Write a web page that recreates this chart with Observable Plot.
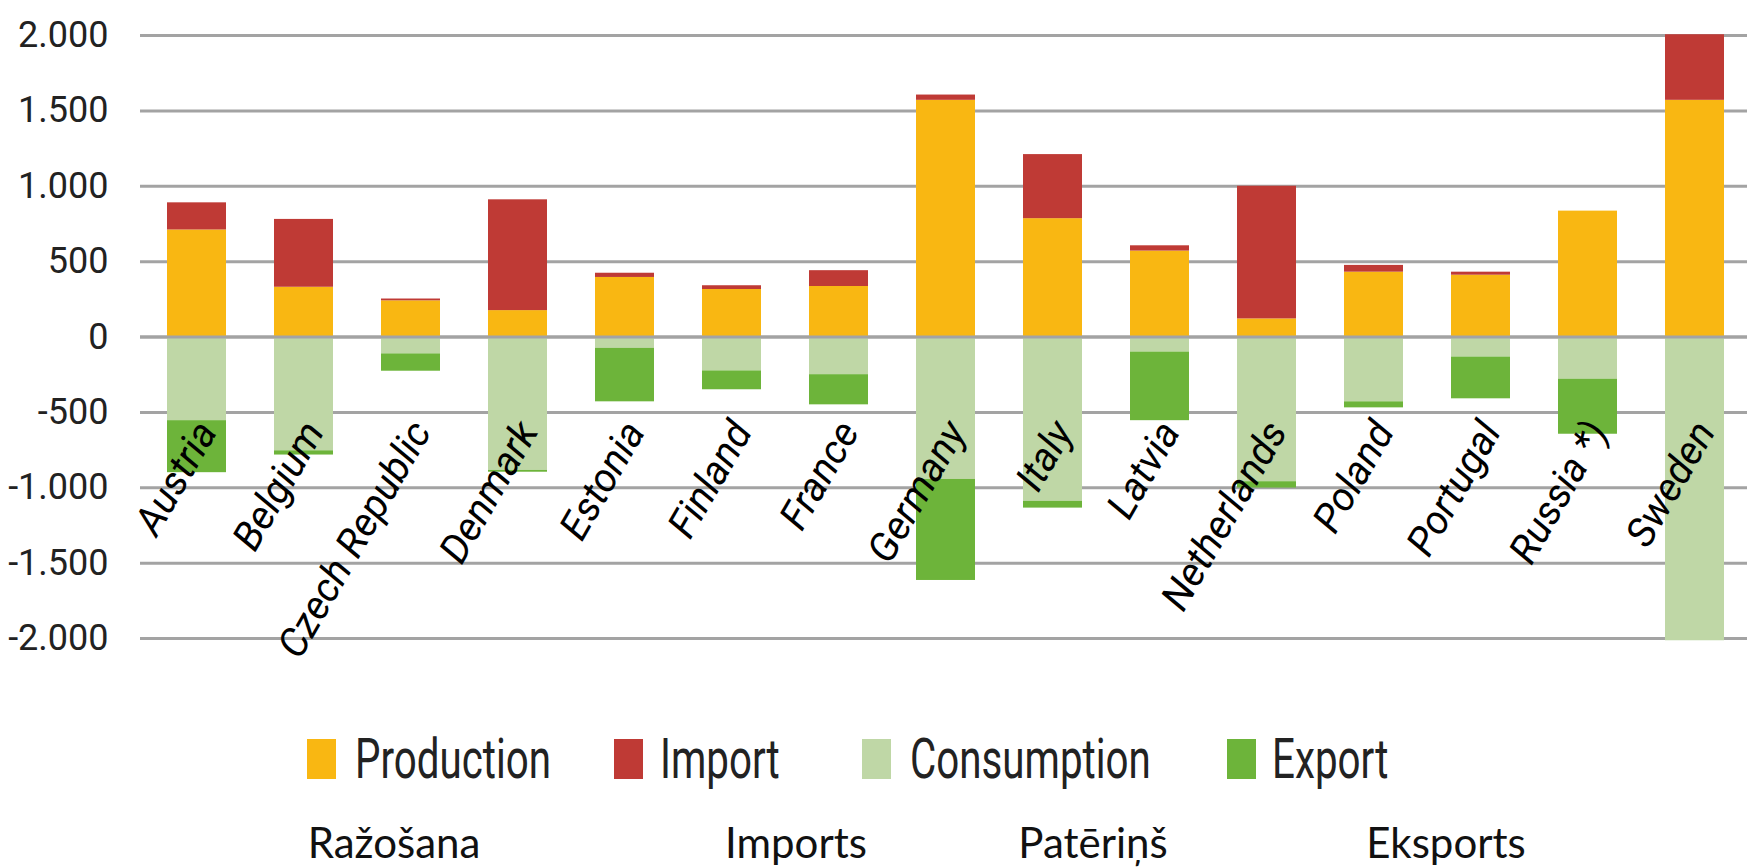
<!DOCTYPE html>
<html>
<head>
<meta charset="utf-8">
<script src="https://cdn.jsdelivr.net/npm/d3@7"></script>
<script src="https://cdn.jsdelivr.net/npm/@observablehq/plot@0.6"></script>
<style>
  html, body { margin: 0; padding: 0; background: #fff; overflow: hidden; }
  #wrap { position: relative; width: 1747px; height: 868px; }
  #chart { position: absolute; left: 0; top: 0; }
  .sw { position: absolute; width: 29px; height: 40px; }
  .lt { position: absolute; font-family: Roboto, "Noto Sans", sans-serif; font-size: 56px; line-height: 1; color: #222; white-space: nowrap; transform: scaleX(0.72); transform-origin: 0 0; }
  .cap { position: absolute; font-family: Lato, "Open Sans", sans-serif; font-size: 42px; line-height: 1; color: #111; white-space: nowrap; transform: translateX(-50%); }
</style>
</head>
<body>
<div id="wrap">
  <div id="chart"></div>
  <div id="legend"></div>
  <div id="captions"></div>
</div>
<script>
const countries = ["Austria","Belgium","Czech Republic","Denmark","Estonia","Finland","France","Germany","Italy","Latvia","Netherlands","Poland","Portugal","Russia *)","Sweden"];
const production  = [710, 330, 240, 175, 395, 315, 335, 1570, 785, 570, 120, 430, 410, 835, 1570];
const imports     = [180, 450, 12, 735, 28, 25, 105, 35, 425, 35, 880, 45, 20, 0, 435];
const consumption = [555, 755, 112, 885, 75, 225, 250, 945, 1090, 100, 960, 430, 133, 280, 2015];
const exports     = [345, 28, 115, 12, 355, 125, 200, 670, 45, 455, 42, 40, 277, 365, 0];

const seriesNames = ["Production", "Import", "Consumption", "Export"];
const seriesColors = ["#F9B712", "#BF3A35", "#BFD7A6", "#6DB43A"];
const captionTexts = ["Ražošana", "Imports", "Patēriņš", "Eksports"];
const yTicks = [-2000, -1500, -1000, -500, 0, 500, 1000, 1500, 2000];

const data = countries.flatMap((c, i) => [
  {country: c, type: "Production", value: production[i]},
  {country: c, type: "Import", value: imports[i]},
  {country: c, type: "Consumption", value: -consumption[i]},
  {country: c, type: "Export", value: -exports[i]}
]);

const fmt = d => (d < 0 ? "-" : "") + d3.format(",")(Math.abs(d)).replace(/,/g, ".");

const chart = Plot.plot({
  width: 1747,
  height: 700,
  marginLeft: 140,
  marginRight: -4,
  marginTop: 35,
  marginBottom: 62,
  style: {fontFamily: "Roboto, 'Noto Sans', sans-serif", color: "#222", background: "transparent"},
  x: {domain: countries, paddingInner: 0.45, paddingOuter: 0.225, axis: null},
  y: {domain: [-2000, 2000], axis: null},
  color: {domain: seriesNames, range: seriesColors},
  marks: [
    Plot.ruleY(yTicks, {stroke: "#A3A3A3", strokeWidth: 3}),
    Plot.barY(data, {x: "country", y: "value", fill: "type", order: seriesNames}),
    Plot.ruleY([0], {stroke: "#A3A3A3", strokeWidth: 3}),
    Plot.axisY({ticks: yTicks, tickFormat: fmt, tickSize: 0, tickPadding: 32, fontSize: 36, fill: "#222", label: null}),
    Plot.text(countries, {x: d => d, y: () => 0, dx: 10, dy: 88, rotate: -60, textAnchor: "end", fontStyle: "italic", fontSize: 40, fill: "#000"})
  ]
});
document.getElementById("chart").appendChild(chart);

// Legend
const legendPos = [[307, 355], [614, 660], [862, 910], [1227, 1272]];
const legend = document.getElementById("legend");
seriesNames.forEach((name, i) => {
  const sw = document.createElement("div");
  sw.className = "sw";
  sw.style.left = legendPos[i][0] + "px";
  sw.style.top = "739px";
  sw.style.background = seriesColors[i];
  legend.appendChild(sw);
  const t = document.createElement("div");
  t.className = "lt";
  t.style.left = legendPos[i][1] + "px";
  t.style.top = "731px";
  t.textContent = name;
  legend.appendChild(t);
});

// Captions (Latvian)
const capX = [394, 796, 1093, 1446];
const caps = document.getElementById("captions");
captionTexts.forEach((txt, i) => {
  const d = document.createElement("div");
  d.className = "cap";
  d.style.left = capX[i] + "px";
  d.style.top = "821px";
  d.textContent = txt;
  caps.appendChild(d);
});
</script>
</body>
</html>
